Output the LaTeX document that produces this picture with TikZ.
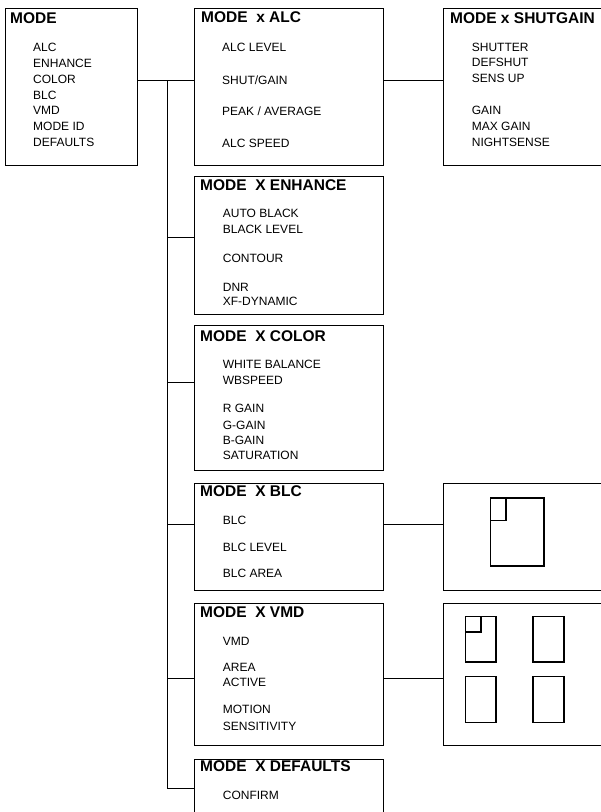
\documentclass[tikz,border=0pt]{standalone}
\usepackage{fontspec}
\setmainfont{Liberation Sans}
\begin{document}
\begin{tikzpicture}[x=1pt,y=-1pt,
  box/.style={draw,line width=0.9pt,rectangle,inner sep=0pt},
  ttl/.style={anchor=base west,inner sep=0pt,font=\fontsize{15.5}{17}\selectfont\bfseries},
  itm/.style={anchor=base west,inner sep=0pt,font=\fontsize{12}{14}\selectfont},
  conn/.style={line width=0.9pt},
  pic/.style={draw,line width=1.4pt,rectangle,inner sep=0pt}]
\useasboundingbox (0,0) rectangle (601,812);
\clip (0,0) rectangle (601,812);
% boxes
\node[box,minimum width=132,minimum height=157] (mode) at (71,86.5) {};
\node[box,minimum width=189,minimum height=157] (alc) at (288.5,86.5) {};
\node[box,minimum width=170,minimum height=157] (shut) at (528,86.5) {};
\node[box,minimum width=189,minimum height=138] (enh) at (288.5,245) {};
\node[box,minimum width=189,minimum height=145] (col) at (288.5,397.5) {};
\node[box,minimum width=189,minimum height=107] (blc) at (288.5,536.5) {};
\node[box,minimum width=170,minimum height=107] (blcp) at (528,536.5) {};
\node[box,minimum width=189,minimum height=142] (vmd) at (288.5,674) {};
\node[box,minimum width=170,minimum height=142] (vmdp) at (528,674) {};
\node[box,minimum width=189,minimum height=70] (def) at (288.5,794) {};
% texts
\node[ttl] (t1) at (10,23.3) {MODE};
\foreach \t [count=\i from 0] in {ALC,ENHANCE,COLOR,BLC,VMD,MODE ID,DEFAULTS}
  \node[itm] (m\i) at (33,51.5+15.85*\i) {\t};
\node[ttl] (t2) at (201,22.7) {MODE\ \ x ALC};
\node[itm] (a1) at (222,51) {ALC LEVEL};
\node[itm] (a2) at (222,84.3) {SHUT/GAIN};
\node[itm] (a3) at (222,115.3) {PEAK / AVERAGE};
\node[itm] (a4) at (222,147.3) {ALC SPEED};
\node[ttl] (t3) at (450,23.3) {MODE x SHUTGAIN};
\node[itm] (s1) at (471.7,51) {SHUTTER};
\node[itm] (s2) at (471.7,66.6) {DEFSHUT};
\node[itm] (s3) at (471.7,82.6) {SENS UP};
\node[itm] (s4) at (471.7,114.3) {GAIN};
\node[itm] (s5) at (471.7,130.3) {MAX GAIN};
\node[itm] (s6) at (471.7,146.3) {NIGHTSENSE};
\node[ttl] (t4) at (200,190) {MODE\ \ X ENHANCE};
\node[itm] (e1) at (222.7,217.6) {AUTO BLACK};
\node[itm] (e2) at (222.7,233.6) {BLACK LEVEL};
\node[itm] (e3) at (222.7,262.6) {CONTOUR};
\node[itm] (e4) at (222.7,291) {DNR};
\node[itm] (e5) at (222.7,305.3) {XF-DYNAMIC};
\node[ttl] (t5) at (200,341.7) {MODE\ \ X COLOR};
\node[itm] (c1) at (222.7,368.6) {WHITE BALANCE};
\node[itm] (c2) at (222.7,384.3) {WBSPEED};
\node[itm] (c3) at (222.7,412.6) {R GAIN};
\node[itm] (c4) at (222.7,429) {G-GAIN};
\node[itm] (c5) at (222.7,444.3) {B-GAIN};
\node[itm] (c6) at (222.7,459.3) {SATURATION};
\node[ttl] (t6) at (200,496.7) {MODE\ \ X BLC};
\node[itm] (b1) at (222.7,524.3) {BLC};
\node[itm] (b2) at (222.7,551) {BLC LEVEL};
\node[itm] (b3) at (222.7,577.6) {BLC AREA};
\node[ttl] (t7) at (200,617.3) {MODE\ \ X VMD};
\node[itm] (v1) at (222.7,645) {VMD};
\node[itm] (v2) at (222.7,671) {AREA};
\node[itm] (v3) at (222.7,686.6) {ACTIVE};
\node[itm] (v4) at (222.7,713.6) {MOTION};
\node[itm] (v5) at (222.7,730) {SENSITIVITY};
\node[ttl] (t8) at (200,771.7) {MODE\ \ X DEFAULTS};
\node[itm] (d1) at (222.7,799.3) {CONFIRM};
% pictures
\draw[pic] (490.7,498) rectangle (544,566);
\draw[pic] (490.7,520.7) -| (506,498);
\draw[pic] (465.7,616.7) rectangle (496,662);
\draw[pic] (465.7,632) -| (481,616.7);
\draw[pic] (533,616.7) rectangle (564,662);
\draw[pic] (465.7,676.7) rectangle (496,722.7);
\draw[pic] (533,676.7) rectangle (564,722.7);
% connectors
\coordinate (j0) at (167,80);
\coordinate (jd) at (167,788);
\draw[conn] (mode.east |- j0) -- (alc.west |- j0);
\draw[conn] (alc.east |- j0) -- (shut.west |- j0);
\draw[conn] (j0) -- (jd) -- (def.west |- jd);
\draw[conn] (j0 |- 0,237) -- (enh.west |- 0,237);
\draw[conn] (j0 |- 0,382) -- (col.west |- 0,382);
\draw[conn] (j0 |- 0,524) -- (blc.west |- 0,524);
\draw[conn] (j0 |- 0,678) -- (vmd.west |- 0,678);
\draw[conn] (blc.east |- 0,524) -- (blcp.west |- 0,524);
\draw[conn] (vmd.east |- 0,678) -- (vmdp.west |- 0,678);
\end{tikzpicture}
\end{document}
